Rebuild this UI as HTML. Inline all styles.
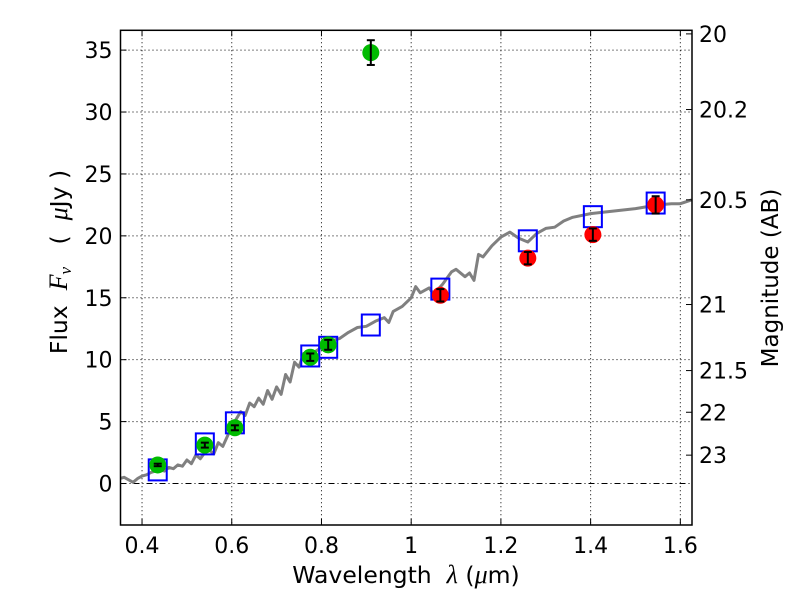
<!DOCTYPE html>
<html><head><meta charset="utf-8"><style>body{margin:0;background:#fff}svg{display:block;font-family:"DejaVu Sans","Liberation Sans",sans-serif}text{white-space:pre}.m{font-family:"Liberation Serif","DejaVu Serif",serif;font-style:italic}</style></head>
<body>
<svg id="c" width="800" height="600" viewBox="0 0 800 600"></svg>
<script>
const xTicks=[0.4,0.6,0.8,1.0,1.2,1.4,1.6];
const xTickLabels=["0.4","0.6","0.8","1","1.2","1.4","1.6"];
const yTicks=[0,5,10,15,20,25,30,35];
const magTicks=[20,20.2,20.5,21,21.5,22,23];
const magTickLabels=["20","20.2","20.5","21","21.5","22","23"];
const specX=[0.35,0.36,0.37,0.38,0.39,0.4,0.41,0.42,0.43,0.44,0.45,0.46,0.47,0.48,0.49,0.5,0.51,0.52,0.53,0.54,0.55,0.56,0.57,0.58,0.59,0.6,0.61,0.62,0.63,0.64,0.65,0.66,0.67,0.68,0.69,0.7,0.71,0.72,0.73,0.74,0.75,0.76,0.78,0.8,0.82,0.84,0.86,0.88,0.9,0.92,0.94,0.95,0.96,0.98,1.0,1.01,1.02,1.04,1.05,1.07,1.09,1.1,1.12,1.13,1.14,1.15,1.16,1.18,1.2,1.22,1.24,1.26,1.28,1.3,1.32,1.34,1.36,1.4,1.45,1.5,1.55,1.58,1.6,1.625];
const specY=[0.4,0.5,0.3,0.1,0.4,0.6,0.7,0.9,1.0,1.1,1.0,1.3,1.2,1.5,1.4,1.9,1.6,2.3,2.0,2.5,2.7,2.4,3.3,3.0,3.8,4.6,5.2,5.8,5.5,6.5,6.2,6.9,6.4,7.5,6.8,7.8,7.2,8.8,8.2,9.8,9.4,10.5,10.5,11.0,11.5,11.7,12.2,12.6,12.7,13.1,13.4,13.0,13.9,14.3,15.0,15.9,15.4,15.8,15.3,16.1,17.1,17.3,16.7,17.0,16.4,18.5,18.3,19.2,19.9,20.3,19.8,19.5,20.2,20.6,20.7,21.2,21.5,21.8,22.0,22.2,22.5,22.6,22.6,22.9];
const boxX=[0.435,0.54,0.607,0.775,0.815,0.91,1.065,1.26,1.405,1.545];
const boxY=[1.1,3.2,4.9,10.3,11.0,12.8,15.7,19.6,21.55,22.65];
const greenX=[0.435,0.54,0.607,0.775,0.815,0.91];
const greenY=[1.5,3.1,4.5,10.2,11.2,34.8];
const greenErr=[0.1,0.2,0.2,0.3,0.4,1.0];
const redX=[1.065,1.26,1.405,1.545];
const redY=[15.2,18.2,20.1,22.5];
const redErr=[0.5,0.5,0.5,0.7];

const L=120.5,R=692,T=30.3,B=525;
const X0=0.352,X1=1.626,Y0=-3.35,Y1=36.6;
const sx=v=>L+(v-X0)/(X1-X0)*(R-L);
const sy=v=>B-(v-Y0)/(Y1-Y0)*(B-T);
const magToFlux=m=>3631e6*Math.pow(10,-0.4*m);
const svg=document.getElementById('c');
const NS="http://www.w3.org/2000/svg";
function mk(tag,attrs,parent){const e=document.createElementNS(NS,tag);for(const k in attrs)e.setAttribute(k,attrs[k]);(parent||svg).appendChild(e);return e;}

const clip=mk('clipPath',{id:'pc'});mk('rect',{x:L,y:T,width:R-L,height:B-T},clip);

const grid=mk('g',{});


xTicks.forEach(v=>{const l=mk('line',{x1:sx(v),x2:sx(v),y1:T,y2:B,stroke:'#000','stroke-width':1,'stroke-dasharray':'1,3'},grid);

});
yTicks.forEach(v=>{if(v===0)return;const l=mk('line',{x1:L,x2:R,y1:sy(v),y2:sy(v),stroke:'#000','stroke-width':1,'stroke-dasharray':'1,3'},grid);

});
const zl=mk('line',{x1:L,x2:R,y1:sy(0),y2:sy(0),stroke:'#000','stroke-width':1,'stroke-dasharray':'6,3,1,3'});



const pts=specX.map((x,i)=>sx(x).toFixed(1)+','+sy(specY[i]).toFixed(1)).join(' ');
const sp=mk('polyline',{points:pts,fill:'none',stroke:'#808080','stroke-width':3,'stroke-linejoin':'round','clip-path':'url(#pc)'});



boxX.forEach((x,i)=>{const r=mk('rect',{x:sx(x)-9,y:sy(boxY[i])-10.5,width:18,height:21,fill:'none',stroke:'#0000ff','stroke-width':2});

});

function pt(x,y,e,col,r){const g=mk('g',{});


mk('circle',{cx:sx(x),cy:sy(y),r:r,fill:col},g);
const cx=sx(x),a=sy(y+e),b=sy(y-e);
mk('line',{x1:cx,x2:cx,y1:a,y2:b,stroke:'#000','stroke-width':2},g);
mk('line',{x1:cx-4,x2:cx+4,y1:a,y2:a,stroke:'#000','stroke-width':2},g);
mk('line',{x1:cx-4,x2:cx+4,y1:b,y2:b,stroke:'#000','stroke-width':2},g);}
greenX.forEach((x,i)=>pt(x,greenY[i],greenErr[i],'#00bb00',8.5));
redX.forEach((x,i)=>pt(x,redY[i],redErr[i],'#ff0000',8.5));

const fr=mk('rect',{x:L,y:T,width:R-L,height:B-T,fill:'none',stroke:'#000','stroke-width':1.5});



xTicks.forEach((v,i)=>{mk('line',{x1:sx(v),x2:sx(v),y1:B,y2:B-6,stroke:'#000'});mk('line',{x1:sx(v),x2:sx(v),y1:T,y2:T+6,stroke:'#000'});
const t=mk('text',{x:sx(v),y:B+28,'font-size':22,'text-anchor':'middle'});t.textContent=xTickLabels[i];

});
yTicks.forEach(v=>{mk('line',{x1:L,x2:L+6,y1:sy(v),y2:sy(v),stroke:'#000'});
const t=mk('text',{x:L-8,y:sy(v)+8,'font-size':22,'text-anchor':'end'});t.textContent=String(v);

});
magTicks.forEach((m,i)=>{const y=sy(magToFlux(m));mk('line',{x1:R,x2:R-6,y1:y,y2:y,stroke:'#000'});
const t=mk('text',{x:R+7,y:y+8,'font-size':22});t.textContent=magTickLabels[i];

});

const xl=mk('text',{x:406,y:583,'font-size':23.5,'text-anchor':'middle'});xl.innerHTML='Wavelength  <tspan class="m" font-size="26">λ</tspan> (<tspan class="m" font-size="26">μ</tspan>m)';


const yl=mk('text',{x:0,y:0,'font-size':23.5,'text-anchor':'middle',transform:'translate(67,262) rotate(-90)'});
yl.innerHTML='Flux  <tspan class="m" font-size="26">F</tspan><tspan class="m" font-size="17" dy="4">ν</tspan><tspan dy="-4">   (  </tspan><tspan class="m" font-size="26">μ</tspan>Jy )';


const ml=mk('text',{x:0,y:0,'font-size':23,'text-anchor':'middle',transform:'translate(778,278) rotate(-90)'});ml.textContent='Magnitude (AB)';


</script>
</body></html>
